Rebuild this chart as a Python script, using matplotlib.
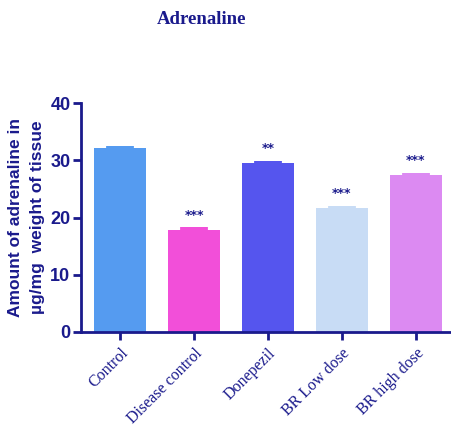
import matplotlib.pyplot as plt

gruppi = ["Control", "Disease control", "Donepezil", "BR Low dose", "BR high dose"]
valori = [32.2, 17.8, 29.6, 21.6, 27.5]
errori = [0.4, 0.5, 0.3, 0.4, 0.35]
stelle = ["", "***", "**", "***", "***"]
colori = ["#559BF0", "#F24FD9", "#5555EE", "#C8DCF5", "#DC8AF2"]

blu = "#1A1A8C"

fig = plt.figure(figsize=(4.52, 4.30), dpi=100)
ax = fig.add_axes([0.179, 0.228, 0.821, 0.532])

x = range(len(gruppi))
ax.bar(x, valori, width=0.7, color=colori, zorder=2)
for i in x:
    # barra d'errore: solo la parte superiore, larga come nel grafico originale
    ax.errorbar(i, valori[i], yerr=[[0], [errori[i]]], color=colori[i], elinewidth=20,
                capsize=0, zorder=3)
    if stelle[i]:
        ax.text(i, valori[i] + errori[i] + 1.0, stelle[i], ha="center", va="bottom",
                color=blu, fontsize=9, fontweight="bold")

ax.set_xlim(-0.53, 4.49)
ax.set_ylim(0, 40)
ax.set_yticks([0, 10, 20, 30, 40])
ax.set_xticks(list(x))
ax.set_xticklabels(gruppi, rotation=45, ha="right", va="top", rotation_mode="anchor",
                   family="Liberation Serif", fontsize=11.5, color=blu)
for lab in ax.get_yticklabels():
    lab.set_fontweight("bold")
    lab.set_color(blu)
    lab.set_fontsize(13)
    lab.set_family("Liberation Sans")

for lato in ["top", "right"]:
    ax.spines[lato].set_visible(False)
for lato in ["left", "bottom"]:
    ax.spines[lato].set_color(blu)
    ax.spines[lato].set_linewidth(2)
ax.tick_params(axis="both", colors=blu, width=2, length=6)
ax.tick_params(axis="y", pad=1.5)

ax.set_ylabel("Amount of adrenaline in\n\u00b5g/mg  weight of tissue", color=blu,
              fontsize=12.5, fontweight="bold", family="Liberation Sans", labelpad=4,
              linespacing=1.55)

fig.text(0.447, 0.955, "Adrenaline", ha="center", va="center", color=blu,
         fontsize=13.5, fontweight="bold", family="Liberation Serif")

fig.savefig("out.png", dpi=100)
